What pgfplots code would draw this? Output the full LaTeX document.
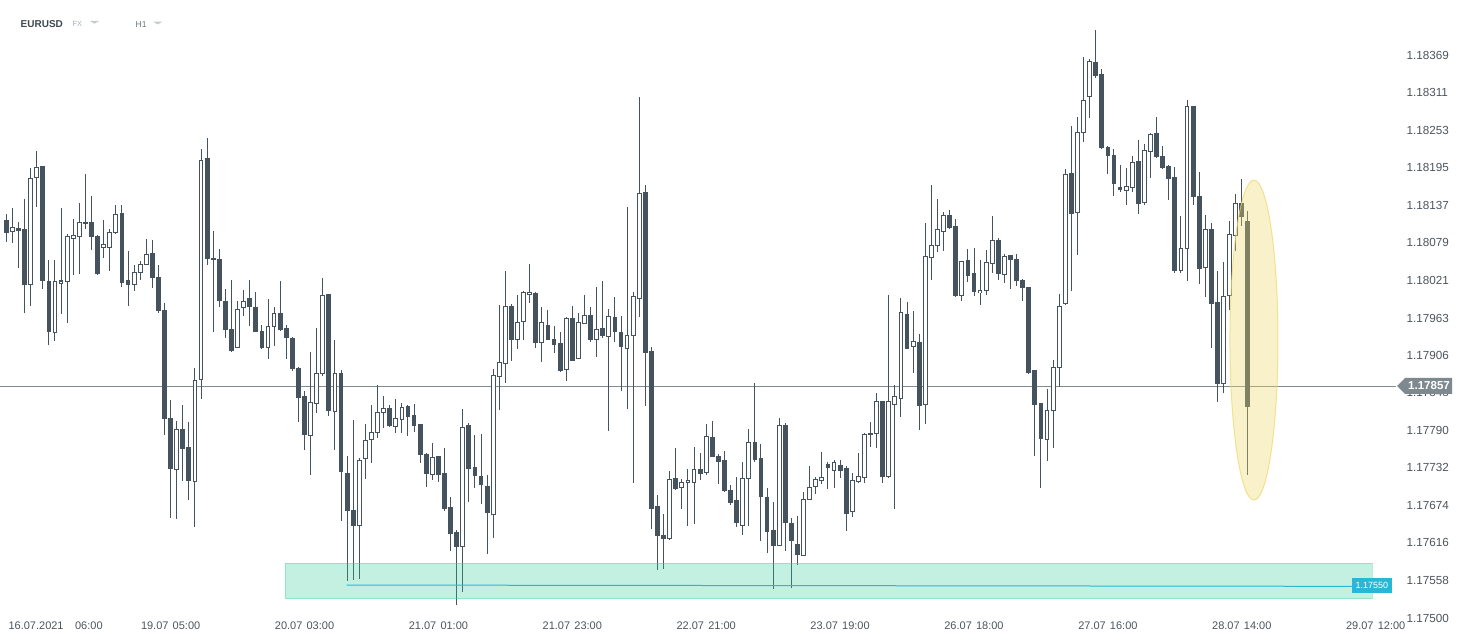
\documentclass[border=0pt]{standalone}
\usepackage{pgfplots}
\pgfplotsset{compat=1.18}
\usepackage{pgfplotstable}
\usepackage{fontspec}
\setmainfont{Liberation Sans}
\definecolor{candle}{HTML}{44535E}
\definecolor{pline}{HTML}{7F8C91}
\definecolor{ptag}{HTML}{7D898E}
\definecolor{zone}{HTML}{2ECC9A}
\definecolor{cyanl}{HTML}{2AB7D7}
\definecolor{ell}{HTML}{EFD96A}
\definecolor{ticktext}{HTML}{4D555C}
\definecolor{hdr}{HTML}{3C4852}
\definecolor{hdrlight}{HTML}{A7B1B8}
\definecolor{hdrmid}{HTML}{6D7A83}
\definecolor{tri}{HTML}{C4CBD0}

\pgfplotstableread{
i o h l c
0 1.18115 1.18124 1.18080 1.18095
1 1.18097 1.18134 1.18081 1.18105
2 1.18103 1.18111 1.18041 1.18099
3 1.18101 1.18148 1.17971 1.18015
4 1.18015 1.18195 1.17982 1.18180
5 1.18180 1.18222 1.18135 1.18197
6 1.18198 1.18199 1.18010 1.18021
7 1.18021 1.18054 1.17922 1.17942
8 1.17941 1.18053 1.17929 1.18020
9 1.18015 1.18134 1.17970 1.18021
10 1.18019 1.18093 1.17957 1.18091
11 1.18086 1.18117 1.18030 1.18092
12 1.18089 1.18142 1.18033 1.18112
13 1.18114 1.18185 1.18101 1.18110
14 1.18112 1.18154 1.18070 1.18089
15 1.18091 1.18092 1.18031 1.18032
16 1.18072 1.18114 1.18056 1.18078
17 1.18072 1.18100 1.18036 1.18097
18 1.18095 1.18138 1.18094 1.18125
19 1.18126 1.18138 1.18011 1.18018
20 1.18022 1.18067 1.17981 1.18015
21 1.18015 1.18046 1.18005 1.18035
22 1.18034 1.18051 1.18022 1.18048
23 1.18046 1.18085 1.18045 1.18063
24 1.18063 1.18085 1.18011 1.18024
25 1.18026 1.18046 1.17972 1.17973
26 1.17975 1.17988 1.17784 1.17807
27 1.17810 1.17837 1.17655 1.17731
28 1.17729 1.17804 1.17653 1.17793
29 1.17793 1.17829 1.17712 1.17762
30 1.17765 1.17804 1.17684 1.17712
31 1.17711 1.17886 1.17641 1.17868
32 1.17868 1.18225 1.17839 1.18208
33 1.18210 1.18242 1.18045 1.18055
34 1.18057 1.18100 1.17944 1.18053
35 1.18055 1.18070 1.17981 1.17990
36 1.17990 1.18010 1.17933 1.17945
37 1.17947 1.18022 1.17910 1.17914
38 1.17918 1.17990 1.17917 1.17977
39 1.17980 1.18006 1.17965 1.17990
40 1.17995 1.18022 1.17951 1.17982
41 1.17981 1.18003 1.17941 1.17942
42 1.17945 1.17953 1.17917 1.17919
43 1.17918 1.17992 1.17900 1.17952
44 1.17949 1.17981 1.17920 1.17972
45 1.17972 1.18022 1.17945 1.17946
46 1.17947 1.17953 1.17900 1.17933
47 1.17933 1.17934 1.17882 1.17885
48 1.17887 1.17888 1.17803 1.17840
49 1.17842 1.17852 1.17760 1.17782
50 1.17782 1.17912 1.17723 1.17834
51 1.17831 1.17949 1.17817 1.17879
52 1.17877 1.18025 1.17873 1.17999
53 1.18000 1.18001 1.17812 1.17820
54 1.17820 1.17929 1.17759 1.17879
55 1.17879 1.17883 1.17650 1.17726
56 1.17725 1.17752 1.17559 1.17666
57 1.17668 1.17807 1.17559 1.17643
58 1.17643 1.17748 1.17562 1.17745
59 1.17746 1.17799 1.17715 1.17776
60 1.17776 1.17829 1.17740 1.17788
61 1.17787 1.17861 1.17779 1.17819
62 1.17818 1.17844 1.17794 1.17825
63 1.17824 1.17830 1.17796 1.17797
64 1.17796 1.17838 1.17786 1.17811
65 1.17807 1.17832 1.17785 1.17828
66 1.17828 1.17829 1.17782 1.17812
67 1.17815 1.17830 1.17787 1.17797
68 1.17800 1.17801 1.17741 1.17752
69 1.17755 1.17756 1.17703 1.17724
70 1.17723 1.17770 1.17713 1.17750
71 1.17750 1.17751 1.17712 1.17721
72 1.17724 1.17763 1.17667 1.17669
73 1.17673 1.17688 1.17604 1.17632
74 1.17633 1.17636 1.17521 1.17610
75 1.17610 1.17823 1.17541 1.17796
76 1.17799 1.17801 1.17680 1.17731
77 1.17734 1.17783 1.17701 1.17720
78 1.17720 1.17786 1.17678 1.17706
79 1.17705 1.17722 1.17599 1.17663
80 1.17660 1.17886 1.17624 1.17877
81 1.17873 1.17983 1.17822 1.17896
82 1.17893 1.18036 1.17863 1.17982
83 1.17982 1.17984 1.17896 1.17930
84 1.17930 1.18000 1.17916 1.17958
85 1.17956 1.18006 1.17931 1.18003
86 1.18000 1.18048 1.17987 1.18004
87 1.18003 1.18004 1.17917 1.17925
88 1.17926 1.17982 1.17897 1.17958
89 1.17954 1.17975 1.17929 1.17930
90 1.17932 1.17952 1.17910 1.17922
91 1.17925 1.17943 1.17881 1.17882
92 1.17884 1.17965 1.17866 1.17964
93 1.17965 1.17982 1.17898 1.17899
94 1.17901 1.17971 1.17900 1.17958
95 1.17956 1.18000 1.17955 1.17969
96 1.17969 1.17982 1.17927 1.17930
97 1.17930 1.18011 1.17903 1.17947
98 1.17948 1.18020 1.17933 1.17936
99 1.17936 1.17978 1.17791 1.17967
100 1.17966 1.17996 1.17927 1.17942
101 1.17943 1.17966 1.17851 1.17920
102 1.17916 1.18134 1.17822 1.17938
103 1.17936 1.18005 1.17709 1.17998
104 1.17993 1.18304 1.17964 1.18157
105 1.18157 1.18168 1.17828 1.17909
106 1.17913 1.17920 1.17638 1.17670
107 1.17674 1.17690 1.17575 1.17627
108 1.17629 1.17661 1.17575 1.17623
109 1.17623 1.17729 1.17622 1.17716
110 1.17717 1.17763 1.17699 1.17700
111 1.17700 1.17715 1.17669 1.17710
112 1.17709 1.17732 1.17643 1.17714
113 1.17708 1.17765 1.17646 1.17730
114 1.17730 1.17755 1.17714 1.17723
115 1.17725 1.17800 1.17722 1.17782
116 1.17781 1.17804 1.17749 1.17750
117 1.17751 1.17754 1.17709 1.17742
118 1.17745 1.17759 1.17696 1.17697
119 1.17699 1.17705 1.17674 1.17679
120 1.17682 1.17718 1.17640 1.17646
121 1.17643 1.17742 1.17629 1.17717
122 1.17715 1.17793 1.17643 1.17773
123 1.17773 1.17864 1.17741 1.17745
124 1.17747 1.17770 1.17621 1.17687
125 1.17689 1.17702 1.17601 1.17635
126 1.17637 1.17679 1.17545 1.17613
127 1.17612 1.17809 1.17611 1.17798
128 1.17798 1.17801 1.17603 1.17646
129 1.17648 1.17656 1.17548 1.17620
130 1.17616 1.17658 1.17582 1.17598
131 1.17598 1.17695 1.17597 1.17685
132 1.17683 1.17735 1.17682 1.17703
133 1.17702 1.17719 1.17692 1.17714
134 1.17713 1.17758 1.17709 1.17720
135 1.17739 1.17742 1.17701 1.17732
136 1.17728 1.17745 1.17701 1.17742
137 1.17738 1.17746 1.17718 1.17729
138 1.17733 1.17735 1.17635 1.17661
139 1.17663 1.17724 1.17655 1.17713
140 1.17711 1.17756 1.17710 1.17720
141 1.17718 1.17786 1.17710 1.17785
142 1.17787 1.17803 1.17765 1.17783
143 1.17785 1.17848 1.17764 1.17836
144 1.17835 1.17836 1.17710 1.17718
145 1.17718 1.18000 1.17717 1.17835
146 1.17830 1.17860 1.17669 1.17843
147 1.17838 1.17994 1.17811 1.17972
148 1.17971 1.17989 1.17916 1.17917
149 1.17919 1.17974 1.17879 1.17927
150 1.17927 1.17940 1.17792 1.17829
151 1.17830 1.18111 1.17800 1.18060
152 1.18057 1.18170 1.18022 1.18077
153 1.18075 1.18148 1.18067 1.18101
154 1.18097 1.18127 1.18067 1.18122
155 1.18124 1.18131 1.18101 1.18103
156 1.18105 1.18117 1.17997 1.17998
157 1.17998 1.18052 1.17991 1.18051
158 1.18053 1.18071 1.18019 1.18028
159 1.18033 1.18073 1.17998 1.18004
160 1.18001 1.18053 1.17984 1.18007
161 1.18005 1.18068 1.17999 1.18049
162 1.18047 1.18121 1.18033 1.18085
163 1.18085 1.18088 1.18022 1.18032
164 1.18030 1.18063 1.18018 1.18060
165 1.18060 1.18061 1.18008 1.18052
166 1.18054 1.18063 1.18013 1.18021
167 1.18023 1.18024 1.17990 1.18010
168 1.18012 1.18013 1.17878 1.17879
169 1.17883 1.17884 1.17751 1.17829
170 1.17832 1.17833 1.17701 1.17777
171 1.17776 1.17855 1.17743 1.17821
172 1.17819 1.17899 1.17763 1.17887
173 1.17887 1.18001 1.17857 1.17983
174 1.17984 1.18194 1.17983 1.18186
175 1.18188 1.18260 1.18005 1.18124
176 1.18126 1.18274 1.18062 1.18251
177 1.18249 1.18368 1.18237 1.18301
178 1.18304 1.18363 1.18271 1.18361
179 1.18359 1.18408 1.18334 1.18337
180 1.18340 1.18348 1.18225 1.18226
181 1.18229 1.18230 1.18186 1.18214
182 1.18215 1.18225 1.18152 1.18170
183 1.18167 1.18199 1.18158 1.18161
184 1.18160 1.18195 1.18138 1.18168
185 1.18165 1.18213 1.18158 1.18205
186 1.18206 1.18238 1.18124 1.18140
187 1.18140 1.18233 1.18139 1.18222
188 1.18220 1.18249 1.18180 1.18248
189 1.18248 1.18275 1.18211 1.18212
190 1.18214 1.18230 1.18194 1.18195
191 1.18198 1.18199 1.18146 1.18178
192 1.18181 1.18196 1.18032 1.18035
193 1.18035 1.18122 1.18034 1.18071
194 1.18069 1.18300 1.18021 1.18290
195 1.18291 1.18292 1.18139 1.18150
196 1.18152 1.18188 1.18015 1.18039
197 1.18040 1.18122 1.17996 1.18101
198 1.18101 1.18110 1.17917 1.17985
199 1.17989 1.18036 1.17834 1.17862
200 1.17862 1.18050 1.17848 1.17998
201 1.17997 1.18113 1.17975 1.18094
202 1.18091 1.18156 1.18068 1.18142
203 1.18142 1.18178 1.18106 1.18120
204 1.18115 1.18128 1.17721 1.17828
}\candles

\begin{document}
\begin{tikzpicture}
\path[use as bounding box, fill=white] (0pt,0pt) rectangle (1467pt,642pt);
\begin{axis}[
  at={(0pt,0pt)}, anchor=south west,
  scale only axis, width=1398pt, height=642pt,
  xmin=-1.0352, xmax=228.67,
  ymin=1.174631, ymax=1.184539,
  axis line style={draw=none},
  tick style={draw=none},
  major tick length=0pt,
  clip=false,
  scaled y ticks=false,
  xtick={8.1,27,49,71,93,115,137,159,181,203,225},
  xticklabels={16.07.2021\hspace{11.5pt}06:00, 19.07\hspace{4.2pt}05:00, 20.07\hspace{4.2pt}03:00, 21.07\hspace{4.2pt}01:00, 21.07\hspace{4.2pt}23:00, 22.07\hspace{4.2pt}21:00, 23.07\hspace{4.2pt}19:00, 26.07\hspace{4.2pt}18:00, 27.07\hspace{4.2pt}16:00, 28.07\hspace{4.2pt}14:00, 29.07\hspace{4.2pt}12:00},
  xticklabel style={anchor=center, yshift=16pt, font=\fontsize{11}{13}\selectfont, text=ticktext},
  ytick={1.17500,1.17558,1.17616,1.17674,1.17732,1.17790,1.17848,1.17906,1.17963,1.18021,1.18079,1.18137,1.18195,1.18253,1.18311,1.18369},
  yticklabels={1.17500,1.17558,1.17616,1.17674,1.17732,1.17790,1.17848,1.17906,1.17963,1.18021,1.18079,1.18137,1.18195,1.18253,1.18311,1.18369},
  yticklabel pos=right,
  yticklabel style={anchor=west, xshift=5pt, font=\fontsize{11.7}{13}\selectfont, text=ticktext},
]
% current price line
\addplot[pline, line width=1pt, mark=none] coordinates {(-1.0352,1.17857) (228.4,1.17857)};
% wicks
\addplot[draw=none, mark=none, error bars/.cd, y dir=both, y explicit, error mark=none,
  error bar style={line width=1pt, draw=candle}]
  table[x=i, y expr={(\thisrow{h}+\thisrow{l})/2}, y error expr={(\thisrow{h}-\thisrow{l})/2}] {\candles};
% bodies
\addplot[draw=none, mark=none, error bars/.cd, y dir=both, y explicit, error mark=none,
  error bar style={line width=4.8pt, draw=candle, line cap=butt}]
  table[x=i, y expr={(\thisrow{o}+\thisrow{c})/2}, y error expr={max(abs(\thisrow{c}-\thisrow{o})/2,0.000012)}] {\candles};
% hollow interiors of rising candles
\addplot[draw=none, mark=none, error bars/.cd, y dir=both, y explicit, error mark=none,
  error bar style={line width=2.8pt, draw=white, line cap=butt}]
  table[x=i, y expr={(\thisrow{o}+\thisrow{c})/2}, y error expr={(\thisrow{c}>\thisrow{o})*max(abs(\thisrow{c}-\thisrow{o})/2-0.0000154,0)}] {\candles};
% support zone
\fill[zone, fill opacity=0.28] (axis cs:45.8,1.17530) rectangle (axis cs:224.4,1.17585);
\draw[zone, draw opacity=0.35, line width=1pt] (axis cs:45.8,1.17530) rectangle (axis cs:224.4,1.17585);
\addplot[cyanl, line width=1pt, mark=none] coordinates {(55.9,1.17551) (221.1,1.17549)};
\node[fill=cyanl, text=white, font=\fontsize{9}{10}\selectfont, inner xsep=3.5pt, inner ysep=0pt, minimum height=15pt, anchor=west] at (axis cs:221.1,1.17550) {1.17550};
% highlight ellipse
\fill[ell, fill opacity=0.35, draw=ell, draw opacity=0.7, line width=1pt] (axis cs:205.0,1.17929) ellipse [x radius=24pt, y radius=160pt];
\end{axis}
% current price tag
\fill[ptag] (1397pt,256pt) -- (1405pt,264pt) -- (1452pt,264pt) -- (1452pt,248pt) -- (1405pt,248pt) -- cycle;
\node[text=white, font=\bfseries\fontsize{11.5}{12}\selectfont, inner sep=0pt, anchor=center] at (1429pt,256pt) {1.17857};
% header
\node[anchor=base west, inner sep=0pt, font=\bfseries\fontsize{10}{12}\selectfont, text=hdr] at (20.5pt,614.7pt) {EURUSD};
\node[anchor=base west, inner sep=0pt, font=\fontsize{7.4}{9}\selectfont, text=hdrlight] at (72.3pt,615.3pt) {FX};
\fill[tri] (90pt,621pt) -- (99pt,621pt) -- (94.5pt,618.3pt) -- cycle;
\node[anchor=base west, inner sep=0pt, font=\fontsize{8.6}{10}\selectfont, text=hdrmid] at (135.5pt,614.7pt) {H1};
\fill[tri] (153.3pt,620.3pt) -- (162.3pt,620.3pt) -- (157.8pt,617.6pt) -- cycle;
\end{tikzpicture}
\end{document}
